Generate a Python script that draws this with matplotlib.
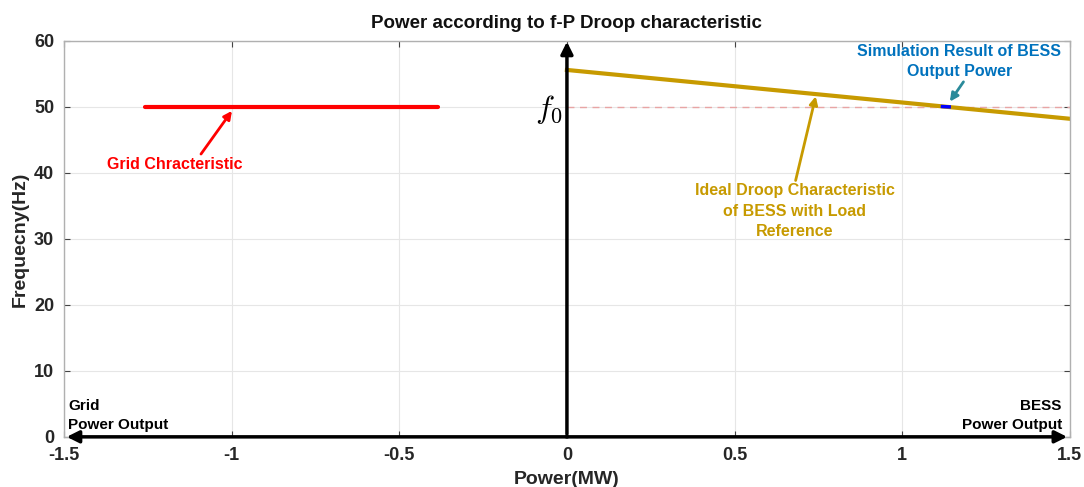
import matplotlib
matplotlib.use("Agg")
import matplotlib.pyplot as plt
import numpy as np

plt.rcParams["font.family"] = ["Liberation Sans", "DejaVu Sans"]
plt.rcParams["font.weight"] = "bold"

# data
grid_p = [-1.258, -0.385]
grid_f = [50.0, 50.0]
droop_p = [0.0, 1.5]
droop_f = [55.6, 48.2]
f0_p = [0.0, 1.5]
f0_f = [50.0, 50.0]
sim_p = [1.12, 1.14]
sim_f = [50.05, 50.0]

xticks = [-1.5, -1, -0.5, 0, 0.5, 1, 1.5]
xticklabels = ["-1.5", "-1", "-0.5", "0", "0.5", "1", "1.5"]
yticks = [0, 10, 20, 30, 40, 50, 60]

gold = "#C79A00"
fig = plt.figure(figsize=(10.84, 4.87), dpi=100)
ax = fig.add_axes([0.059, 0.103, 0.928, 0.813])

ax.grid(True, color="#e6e6e6", linewidth=0.8)
ax.set_axisbelow(True)

ax.plot(f0_p, f0_f, linestyle=(0, (5, 4)), color="#e8a5a5", linewidth=1.0)
ax.plot(grid_p, grid_f, color="red", linewidth=3, solid_capstyle="round")
ax.plot(droop_p, droop_f, color=gold, linewidth=3)
ax.plot(sim_p, sim_f, color="blue", linewidth=2.5)

# axis arrows
ax.annotate("", xy=(0, 60.3), xytext=(0, 0), annotation_clip=False,
            arrowprops=dict(arrowstyle="-|>", color="black", lw=2.5, mutation_scale=18))
ax.annotate("", xy=(1.5, 0), xytext=(-0.01, 0), annotation_clip=False,
            arrowprops=dict(arrowstyle="-|>", color="black", lw=2.5, mutation_scale=18))
ax.annotate("", xy=(-1.5, 0), xytext=(0.01, 0), annotation_clip=False,
            arrowprops=dict(arrowstyle="-|>", color="black", lw=2.5, mutation_scale=18))

ax.text(-0.013, 49.6, r"$f_0$", fontsize=23, ha="right", va="center", math_fontfamily="cm")

ax.annotate("Grid Chracteristic", xy=(-0.999, 49.4), xytext=(-1.17, 41.3),
            color="red", fontsize=11.5, fontweight="bold", ha="center", va="center",
            arrowprops=dict(arrowstyle="-|>", color="red", lw=2, mutation_scale=12,
                            shrinkA=0, shrinkB=0, relpos=(0.68, 1.0)))
ax.annotate("Ideal Droop Characteristic\nof BESS with Load\nReference", xy=(0.742, 51.6),
            xytext=(0.68, 34.2), color=gold, fontsize=11.5, fontweight="bold",
            ha="center", va="center", linespacing=1.45,
            arrowprops=dict(arrowstyle="-|>", color=gold, lw=2, mutation_scale=12,
                            shrinkA=0, shrinkB=0, relpos=(0.5, 1.0)))
ax.annotate("Simulation Result of BESS\nOutput Power", xy=(1.142, 50.8), xytext=(1.17, 56.9),
            color="#0072BD", fontsize=11.5, fontweight="bold", ha="center", va="center",
            linespacing=1.45,
            arrowprops=dict(arrowstyle="-|>", color="#2a8a9a", lw=2, mutation_scale=12,
                            shrinkA=0, shrinkB=0, relpos=(0.53, 0.0)))

ax.text(-1.488, 3.2, "Grid\nPower Output", fontsize=11, fontweight="bold", ha="left",
        va="center", linespacing=1.45)
ax.text(1.476, 3.2, "BESS\nPower Output", fontsize=11, fontweight="bold", ha="right",
        va="center", linespacing=1.45)

ax.set_xlim(-1.5, 1.5)
ax.set_ylim(0, 60)
ax.set_xticks(xticks)
ax.set_xticklabels(xticklabels)
ax.set_yticks(yticks)
ax.tick_params(labelsize=13, length=4, color="#444444", direction="in",
               top=True, right=True)
ax.tick_params(axis="x", pad=7)
ax.tick_params(axis="y", pad=7)
for lab in ax.get_xticklabels() + ax.get_yticklabels():
    lab.set_fontweight("bold")
    lab.set_color("#262626")
for s in ax.spines.values():
    s.set_color("#b0b0b0")
    s.set_linewidth(1.0)

ax.set_xlabel("Power(MW)", fontsize=14, fontweight="bold", labelpad=5, color="#262626")
ax.set_ylabel("Frequecny(Hz)", fontsize=14, fontweight="bold", labelpad=4, color="#262626")
ax.set_title("Power according to f-P Droop characteristic", fontsize=13.5, fontweight="bold",
             pad=9, color="#111111")

fig.savefig("out.png", dpi=100)
